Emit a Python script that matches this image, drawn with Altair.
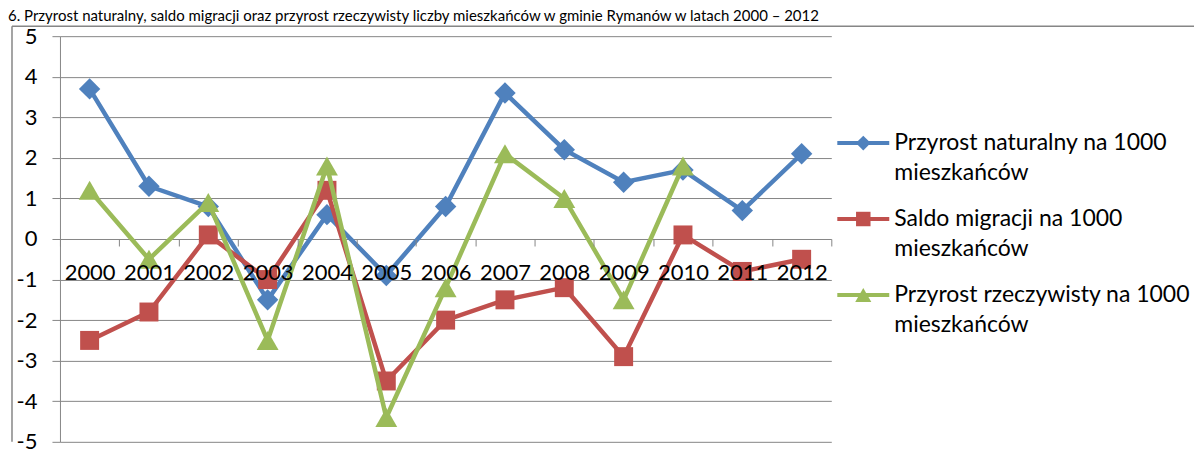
import altair as alt
import pandas as pd

TITLE = "6. Przyrost naturalny, saldo migracji oraz przyrost rzeczywisty liczby mieszkańców w gminie Rymanów w latach 2000 – 2012"

years = ["2000", "2001", "2002", "2003", "2004", "2005", "2006",
         "2007", "2008", "2009", "2010", "2011", "2012"]
series = [
    "Przyrost naturalny na 1000 mieszkańców",
    "Saldo migracji na 1000 mieszkańców",
    "Przyrost rzeczywisty na 1000 mieszkańców",
]
naturalny = [3.7, 1.3, 0.8, -1.5, 0.6, -0.9, 0.8, 3.6, 2.2, 1.4, 1.7, 0.7, 2.1]
migracja = [-2.5, -1.8, 0.1, -1.0, 1.2, -3.5, -2.0, -1.5, -1.2, -2.9, 0.1, -0.8, -0.5]
rzeczywisty = [1.2, -0.5, 0.9, -2.5, 1.8, -4.4, -1.2, 2.1, 1.0, -1.5, 1.8, None, None]
y_ticks = [-5, -4, -3, -2, -1, 0, 1, 2, 3, 4, 5]

colors = ["#4F81BD", "#C0504D", "#9BBB59"]
shapes = ["diamond", "square", "triangle-up"]
plot_sizes = [460, 360, 480]
legend_sizes = [220, 210, 260]
FONT = "Lato"
GRID = "#868686"

rows = []
for s, vals in zip(series, [naturalny, migracja, rzeczywisty]):
    for yr, v in zip(years, vals):
        if v is not None:
            rows.append({"year": yr, "series": s, "value": v})
df = pd.DataFrame(rows)

color_scale = alt.Scale(domain=series, range=colors)
shape_scale = alt.Scale(domain=series, range=shapes)

base = alt.Chart(df).encode(
    x=alt.X(
        "year:O", sort=years, bandPosition=0.5,
        scale=alt.Scale(type="band", domain=years, paddingInner=0, paddingOuter=0),
        axis=alt.Axis(
            title=None, orient="bottom", offset=-203, domain=False,
            ticks=True, tickBand="extent", tickSize=7, tickColor=GRID, tickWidth=1,
            labelFontSize=22, labelFont=FONT, labelColor="black", labelPadding=17,
            labelAngle=0, labelOverlap=False, grid=False, zindex=1,
        ),
    ),
    y=alt.Y(
        "value:Q",
        scale=alt.Scale(domain=[-5, 5], nice=False, zero=False),
        axis=alt.Axis(
            title=None, values=y_ticks, grid=True, gridColor=GRID, gridWidth=1,
            domain=True, domainColor=GRID, domainWidth=1, ticks=True, tickSize=8,
            tickColor=GRID, labelFontSize=22, labelFont=FONT, labelColor="black",
            labelPadding=15, labelExpr="'' + datum.value", zindex=0,
        ),
    ),
    color=alt.Color("series:N", scale=color_scale, legend=None),
)

layers = []
for s, sz in zip(series, plot_sizes):
    sub = base.transform_filter(alt.datum.series == s)
    layers.append(sub.mark_line(strokeWidth=4.5))
    layers.append(
        sub.mark_point(filled=True, opacity=1, size=sz, strokeWidth=0).encode(
            shape=alt.Shape("series:N", scale=shape_scale, legend=None)
        )
    )

title_layer = alt.Chart(alt.Data(values=[{"t": TITLE}])).mark_text(
    align="left", baseline="top", fontSize=15, font=FONT, color="black"
).encode(x=alt.value(-52), y=alt.value(-27), text="t:N")

border = alt.Chart(alt.Data(values=[{"b": 1}])).mark_rule(color=GRID, strokeWidth=1.5)
top_border = border.encode(x=alt.value(-48), x2=alt.value(1135), y=alt.value(-10))
left_border = border.encode(x=alt.value(-48), y=alt.value(-10), y2=alt.value(406))

panel1 = alt.layer(left_border, top_border, *layers, title_layer).properties(width=772, height=406)

# legend panel
leg_df = pd.DataFrame({
    "series": series,
    "label": [s.replace(" mieszka", "\nmieszka") for s in series],
})
leg_base = alt.Chart(leg_df).encode(
    y=alt.Y("series:N", sort=series,
            scale=alt.Scale(type="point", domain=series, range=[107, 259], padding=0),
            axis=None),
)
leg_layers = []
for s, sz in zip(series, legend_sizes):
    sub = leg_base.transform_filter(alt.datum.series == s)
    leg_layers.append(
        sub.mark_rule(strokeWidth=4).encode(
            x=alt.value(0), x2=alt.value(52),
            color=alt.Color("series:N", scale=color_scale, legend=None),
        )
    )
    leg_layers.append(
        sub.mark_point(filled=True, opacity=1, size=sz, strokeWidth=0).encode(
            x=alt.value(26),
            color=alt.Color("series:N", scale=color_scale, legend=None),
            shape=alt.Shape("series:N", scale=shape_scale, legend=None),
        )
    )
leg_text = leg_base.mark_text(
    align="left", baseline="top", dy=-11, fontSize=23, font=FONT,
    lineBreak="\n", lineHeight=30, color="black",
).encode(x=alt.value(57), text="label:N")

panel2 = alt.layer(*leg_layers, leg_text).properties(width=357, height=406)

chart = alt.hconcat(panel1, panel2, spacing=6, bounds="flush").properties(
    padding={"left": 0, "top": 1, "right": 0, "bottom": 0}
).configure_view(strokeWidth=0)

chart.save("out.html", embed_options={"renderer": "svg", "actions": False})
